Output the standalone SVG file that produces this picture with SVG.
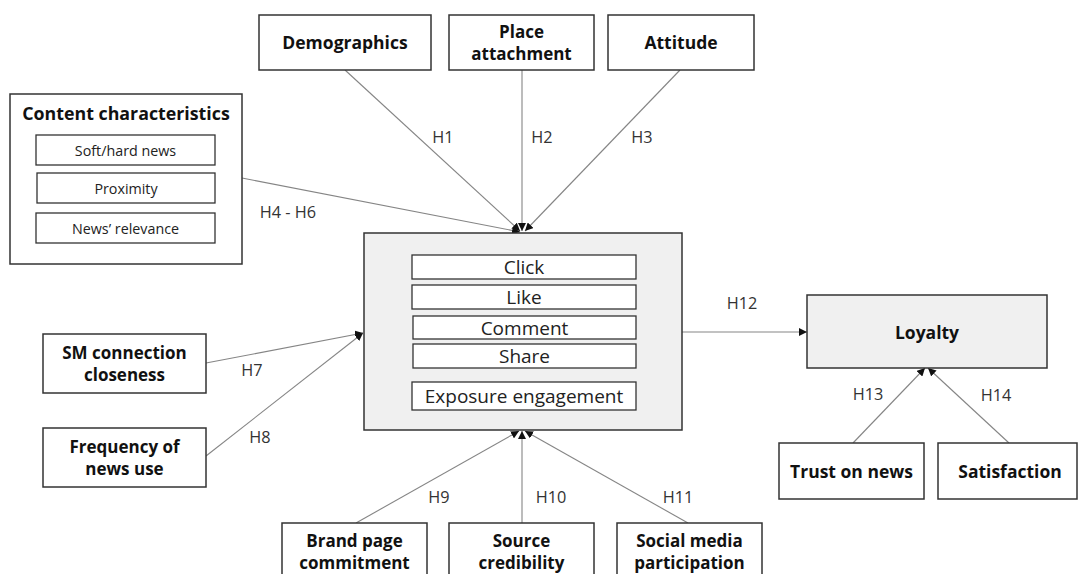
<svg xmlns="http://www.w3.org/2000/svg" width="1078" height="574" viewBox="0 0 1078 574">
  <style>
    .box { fill: #ffffff; stroke: #333333; stroke-width: 1.5; }
    .grey { fill: #f0f0f0; stroke: #333333; stroke-width: 1.5; }
    .sub { fill: #ffffff; stroke: #333333; stroke-width: 1.3; }
    .title { font-family: "Open Sans", "DejaVu Sans", sans-serif; font-weight: bold; font-size: 17.5px; fill: #111111; text-anchor: middle; dominant-baseline: central; }
    .two { font-size: 17px; }
    .item { font-family: "Open Sans", "DejaVu Sans", sans-serif; font-size: 14.3px; fill: #222222; text-anchor: middle; dominant-baseline: central; }
    .act { font-family: "Open Sans", "DejaVu Sans", sans-serif; font-size: 19px; fill: #222222; text-anchor: middle; dominant-baseline: central; }
    .hyp { font-family: "Open Sans", "DejaVu Sans", sans-serif; font-size: 16.3px; fill: #333333; text-anchor: middle; dominant-baseline: central; }
    .edge { stroke: #858585; stroke-width: 1.1; fill: none; marker-end: url(#arrow); }
  </style>
  <defs>
    <marker id="arrow" markerUnits="userSpaceOnUse" markerWidth="9" markerHeight="8" refX="8" refY="4" orient="auto">
      <path d="M0,0 L8,4 L0,8 z" fill="#111111"/>
    </marker>
  </defs>

  <!-- connectors -->
  <g id="connectors">
    <line class="edge" x1="345" y1="70" x2="520" y2="231"/>
    <line class="edge" x1="522" y1="70" x2="522" y2="231"/>
    <line class="edge" x1="680" y1="70" x2="525" y2="231"/>
    <line class="edge" x1="242" y1="178" x2="520" y2="232"/>
    <line class="edge" x1="206" y1="363" x2="363" y2="333"/>
    <line class="edge" x1="206" y1="456" x2="363" y2="333"/>
    <line class="edge" x1="356" y1="523" x2="519" y2="431"/>
    <line class="edge" x1="522" y1="523" x2="522" y2="431"/>
    <line class="edge" x1="688" y1="523" x2="525" y2="431"/>
    <line class="edge" x1="682" y1="332" x2="807" y2="332"/>
    <line class="edge" x1="853" y1="443" x2="925" y2="368"/>
    <line class="edge" x1="1009" y1="443" x2="928" y2="368"/>

    <text class="hyp" x="443" y="137">H1</text>
    <text class="hyp" x="542" y="137">H2</text>
    <text class="hyp" x="642" y="137">H3</text>
    <text class="hyp" x="288" y="212">H4 - H6</text>
    <text class="hyp" x="252" y="370">H7</text>
    <text class="hyp" x="260" y="437">H8</text>
    <text class="hyp" x="439" y="497">H9</text>
    <text class="hyp" x="551" y="497">H10</text>
    <text class="hyp" x="678" y="497">H11</text>
    <text class="hyp" x="742" y="303">H12</text>
    <text class="hyp" x="868" y="394">H13</text>
    <text class="hyp" x="996" y="395">H14</text>
  </g>

  <g id="demographics">
    <rect class="box" x="259" y="15" width="172" height="55"/>
    <text class="title" x="345" y="42">Demographics</text>
  </g>
  <g id="place-attachment">
    <rect class="box" x="449" y="15" width="145" height="55"/>
    <text class="title two" x="521.5" y="31">Place</text>
    <text class="title two" x="521.5" y="53">attachment</text>
  </g>
  <g id="attitude">
    <rect class="box" x="608" y="15" width="146" height="55"/>
    <text class="title" x="681" y="42">Attitude</text>
  </g>

  <g id="content-characteristics">
    <rect class="box" x="10" y="94" width="232" height="170"/>
    <text class="title" x="126" y="113" style="font-size:17.8px">Content characteristics</text>
    <rect class="sub" x="36" y="135" width="179" height="30"/>
    <text class="item" x="125.5" y="150">Soft/hard news</text>
    <rect class="sub" x="37" y="173" width="178" height="30"/>
    <text class="item" x="126" y="188">Proximity</text>
    <rect class="sub" x="36" y="213" width="179" height="30"/>
    <text class="item" x="125.5" y="228">News’ relevance</text>
  </g>

  <g id="engagement">
    <rect class="grey" x="364" y="233" width="318" height="197"/>
    <rect class="sub" x="412" y="255" width="224" height="24"/>
    <text class="act" x="524" y="267">Click</text>
    <rect class="sub" x="412" y="285" width="224" height="24"/>
    <text class="act" x="524" y="297">Like</text>
    <rect class="sub" x="413" y="316" width="223" height="23"/>
    <text class="act" x="524.5" y="327.5">Comment</text>
    <rect class="sub" x="413" y="344" width="223" height="24"/>
    <text class="act" x="524.5" y="356">Share</text>
    <rect class="sub" x="412" y="382" width="224" height="28"/>
    <text class="act" x="524" y="396">Exposure engagement</text>
  </g>

  <g id="sm-connection-closeness">
    <rect class="box" x="43" y="334" width="163" height="59"/>
    <text class="title two" x="124.5" y="352">SM connection</text>
    <text class="title two" x="124.5" y="374">closeness</text>
  </g>
  <g id="frequency-of-news-use">
    <rect class="box" x="43" y="428" width="163" height="59"/>
    <text class="title two" x="124.5" y="446">Frequency of</text>
    <text class="title two" x="124.5" y="468">news use</text>
  </g>

  <g id="brand-page-commitment">
    <rect class="box" x="282" y="523" width="145" height="60"/>
    <text class="title two" x="354.5" y="540">Brand page</text>
    <text class="title two" x="354.5" y="562">commitment</text>
  </g>
  <g id="source-credibility">
    <rect class="box" x="449" y="523" width="145" height="60"/>
    <text class="title two" x="521.5" y="540">Source</text>
    <text class="title two" x="521.5" y="562">credibility</text>
  </g>
  <g id="social-media-participation">
    <rect class="box" x="617" y="523" width="145" height="60"/>
    <text class="title two" x="689.5" y="540">Social media</text>
    <text class="title two" x="689.5" y="562">participation</text>
  </g>

  <g id="loyalty">
    <rect class="grey" x="807" y="295" width="240" height="73"/>
    <text class="title" x="927" y="332">Loyalty</text>
  </g>
  <g id="trust-on-news">
    <rect class="box" x="779" y="443" width="145" height="56"/>
    <text class="title" x="851.5" y="471">Trust on news</text>
  </g>
  <g id="satisfaction">
    <rect class="box" x="938" y="443" width="139" height="56"/>
    <text class="title" x="1010" y="471">Satisfaction</text>
  </g>
</svg>
